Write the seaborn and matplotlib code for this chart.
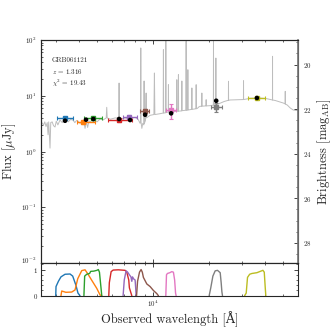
import matplotlib
matplotlib.use("Agg")
import matplotlib.pyplot as plt
import matplotlib.transforms as mtransforms
import numpy as np
import seaborn as sns
from matplotlib.ticker import MultipleLocator, LogLocator, NullFormatter

# best-fit template spectrum (observed frame, uJy)
spec_wave = [2500, 2540, 2580, 2620, 2660, 2700, 2727, 2750, 2795, 2820, 2870, 2920,
             2973, 3020, 3080, 3162, 3250, 3330, 3413, 3500, 3600, 3710, 3800, 3880,
             3953, 4050, 4150, 4250, 4310, 4380, 4450, 4520, 4585, 4700, 4877, 5000,
             5188, 5400, 5600, 5636, 5670, 5900, 6245, 6530, 6566, 6600, 6800, 7071,
             7400, 7700, 8005, 8300, 8514, 8560, 8587, 8615, 8700, 8800, 8920, 8946,
             8970, 9100, 9173, 9200, 9400, 9636, 10100, 10162, 10220, 10906, 11330,
             11360, 11390, 11680, 11704, 11730, 12060, 12086, 12110, 13380, 13409,
             13440, 13650, 13677, 13705, 14240, 14269, 14300, 15010, 15044, 15080,
             15340, 15369, 15400, 16120, 16151, 16180, 17000, 17030, 17060, 17300,
             17600, 17895, 18240, 18272, 18300, 19240, 19270, 19300, 20255, 21070,
             21100, 21130, 21700, 21730, 21760, 22370, 24080, 25370, 25400, 25430,
             25940, 29360, 30560, 30590, 30620, 33220, 36700, 40510, 43750, 43790,
             43830, 45290, 50000, 51210, 51250, 51290, 52530, 54520, 56580, 60200]
spec_flux = [3.5, 3.2, 3.0, 3.4, 2.8, 3.3, 2.0, 3.4, 1.15, 3.3, 3.4, 2.9,
             2.75, 3.5, 3.0, 3.67, 3.3, 3.7, 3.72, 3.4, 3.75, 3.67, 3.3, 3.6,
             3.5, 3.2, 3.5, 3.3, 2.6, 3.4, 2.7, 3.5, 3.48, 3.3, 3.6, 3.4,
             3.83, 3.7, 4.0, 6.2, 4.0, 3.8, 4.0, 4.0, 16.9, 4.0, 3.9, 4.0,
             3.9, 4.0, 4.1, 3.8, 3.2, 3.5, 72, 3.4, 2.6, 3.2, 3.0, 18.4,
             3.2, 3.6, 11.2, 4.0, 4.2, 4.46, 4.6, 25.6, 4.6, 4.77, 4.9,
             67, 4.9, 4.95, 150, 5.0, 5.1, 15.8, 5.1, 5.25, 19.4,
             5.28, 5.3, 23.9, 5.3, 5.35, 18.4, 5.4, 5.5, 95, 5.5,
             5.55, 29.3, 5.55, 5.7, 13.8, 5.7, 5.85, 15.8, 5.85, 5.95,
             6.3, 6.46, 6.5, 11.2, 6.5, 6.58, 8.5, 6.58, 6.64, 6.8,
             110, 6.8, 6.95, 47.5, 6.95, 7.11, 7.89, 8.3, 18.2, 8.3,
             8.4, 8.5, 8.55, 18.6, 8.55, 9.0, 9.12, 8.9, 8.4, 51,
             8.4, 8.22, 7.41, 7.15, 12, 7.1, 6.82, 6.03, 5.55, 5.4]

# observed photometry
obs_wave = [3365, 4200, 4775, 6564, 7457, 9057, 12494, 21820, 36100]
obs_lo = [3047, 3889, 4272, 5750, 6872, 8514, 11746, 20504, 32137]
obs_hi = [3701, 4877, 5312, 7685, 8174, 9553, 13295, 23410, 40020]
obs_flux = [3.94, 3.34, 3.99, 3.63, 4.21, 5.40, 5.50, 6.21, 9.12]
obs_err = [0.3, 0.2, 0.25, 0.2, 0.3, 0.4, 1.7, 1.15, 0.3]

# model photometry
model_wave = [3365, 4363, 4775, 6564, 7522, 9057, 12494, 21820, 36100]
model_flux = [3.56, 3.72, 3.83, 3.83, 3.67, 4.57, 4.84, 8.14, 9.12]

# filter transmission curves
filters = {
    "U": ([3000, 3010, 3100, 3200, 3365, 3580, 3700, 3850, 3950, 4050],
          [0, 0.35, 0.55, 0.72, 0.82, 0.83, 0.75, 0.4, 0.1, 0]),
    "B": ([3200, 3230, 3400, 3655, 3808, 3938, 4138, 4310, 4456, 4682, 4983, 5188, 5300],
          [0, 0.18, 0.13, 0.14, 0.22, 0.65, 0.96, 0.99, 0.84, 0.59, 0.28, 0.03, 0]),
    "g": ([4250, 4290, 4400, 4560, 4620, 4800, 4990, 5080, 5150, 5250, 5300],
          [0, 0.75, 0.82, 0.85, 0.93, 0.94, 0.97, 1.0, 0.9, 0.3, 0]),
    "R": ([5780, 5820, 5950, 6100, 6500, 7071, 7222, 7400, 7458, 7685],
          [0, 0.5, 0.92, 0.98, 0.99, 0.97, 0.9, 0.6, 0.3, 0]),
    "I": ([6900, 7000, 7158, 7300, 7457, 7600, 7685, 7750, 7839, 8005, 8060, 8105],
          [0, 0.6, 0.95, 0.9, 0.8, 0.72, 0.55, 0.72, 0.65, 0.6, 0.3, 0]),
    "z": ([8150, 8250, 8450, 8619, 8750, 8868, 9250, 9636, 10037, 10469, 10678],
          [0, 0.55, 0.9, 1.0, 0.9, 0.7, 0.45, 0.35, 0.2, 0.08, 0]),
    "J": ([11700, 11800, 11938, 12300, 12600, 12855, 13050, 13200, 13295],
          [0, 0.8, 0.85, 0.88, 0.92, 0.9, 0.6, 0.1, 0]),
    "K": ([20000, 20400, 20942, 21545, 22168, 22924, 23200, 23410, 23583],
          [0, 0.3, 0.75, 0.95, 0.97, 0.88, 0.5, 0.15, 0]),
    "3.6": ([31000, 31623, 32137, 33000, 33940, 36100, 37610, 38880, 39530, 40020, 40300],
            [0, 0.1, 0.7, 0.82, 0.85, 0.88, 0.93, 0.97, 0.9, 0.3, 0]),
}

sns.set_style("ticks")
plt.rcParams["font.family"] = ["cmr10", "DejaVu Serif"]
plt.rcParams["mathtext.fontset"] = "cm"
plt.rcParams["axes.formatter.use_mathtext"] = True
plt.rcParams["axes.unicode_minus"] = False

colors = sns.color_palette("tab10", len(filters))

fig = plt.figure(figsize=(3.32, 3.32), dpi=100)
ax = fig.add_axes([0.1235, 0.2078, 0.7741, 0.6717])
axf = fig.add_axes([0.1235, 0.1093, 0.7741, 0.0985], sharex=ax)

sns.lineplot(x=spec_wave, y=spec_flux, ax=ax, color="#bdbdbd", lw=0.7, estimator=None, sort=False)
for i in range(len(obs_wave)):
    ax.errorbar(obs_wave[i], obs_flux[i],
                xerr=[[obs_wave[i] - obs_lo[i]], [obs_hi[i] - obs_wave[i]]],
                yerr=obs_err[i], fmt="s", ms=2.5, color=colors[i], lw=1.0,
                capsize=1.5, capthick=0.8, zorder=3)
sns.scatterplot(x=model_wave, y=model_flux, ax=ax, color="black", s=11, zorder=4, edgecolor="none")

ax.set_xscale("log")
ax.set_yscale("log")
ax.set_xlim(2500, 60000)
ax.set_ylim(0.01, 100)
ax.set_ylabel(r"Flux [$\mu$Jy]", fontsize=9, labelpad=2)
ax.tick_params(which="both", direction="in", top=True, labelbottom=False, labelsize=5)
ax.tick_params(which="major", length=3, width=0.6)
ax.tick_params(which="minor", length=1.5, width=0.5)
ax.yaxis.set_minor_locator(LogLocator(subs=np.arange(2, 10)))
ax.yaxis.set_minor_formatter(NullFormatter())

ax.text(0.042, 0.912, "GRB061121", transform=ax.transAxes, fontsize=5, va="center")
ax.text(0.042, 0.857, r"$z$ = 1.316", transform=ax.transAxes, fontsize=5, va="center")
ax.text(0.042, 0.805, r"$\chi^2$ = 19.43", transform=ax.transAxes, fontsize=5, va="center")

axm = ax.twinx()
axm.set_ylim(23.9 + 2.5 * 2, 23.9 - 2.5 * 2)
axm.yaxis.set_major_locator(MultipleLocator(2))
axm.yaxis.set_minor_locator(MultipleLocator(0.5))
axm.tick_params(which="both", direction="in", labelsize=5)
axm.tick_params(which="major", length=3, width=0.6)
axm.tick_params(which="minor", length=1.5, width=0.5)
axm.set_ylabel(r"Brightness [mag$_\mathrm{AB}$]", fontsize=9, labelpad=3)
axm.spines["right"].set_color("0.45")
axm.spines["right"].set_linewidth(1.2)

for i, (name, (fw, ft)) in enumerate(filters.items()):
    sns.lineplot(x=fw, y=ft, ax=axf, color=colors[i], lw=1.0, estimator=None, sort=False)
axf.set_ylim(0, 1.25)
axf.set_yticks([0, 1])
axf.yaxis.set_minor_locator(MultipleLocator(0.2))
axf.set_xlim(2500, 60000)
axf.tick_params(which="both", direction="in", top=True, right=True, labelsize=5)
axf.tick_params(which="major", length=3, width=0.6, pad=2)
axf.tick_params(which="minor", length=1.5, width=0.5)
axf.set_xlabel("Observed wavelength [Å]", fontsize=9, labelpad=2)

for a in (ax, axf):
    for s in a.spines.values():
        s.set_linewidth(0.8)

# lift the lowest flux label a touch so it clears the "1" of the filter panel
fig.canvas.draw()
lift = mtransforms.ScaledTranslation(0, 2 / 72, fig.dpi_scale_trans)
for t in ax.yaxis.get_major_ticks():
    if np.isclose(t.get_loc(), 0.01):
        t.label1.set_transform(t.label1.get_transform() + lift)

fig.savefig("out.png", dpi=100)
